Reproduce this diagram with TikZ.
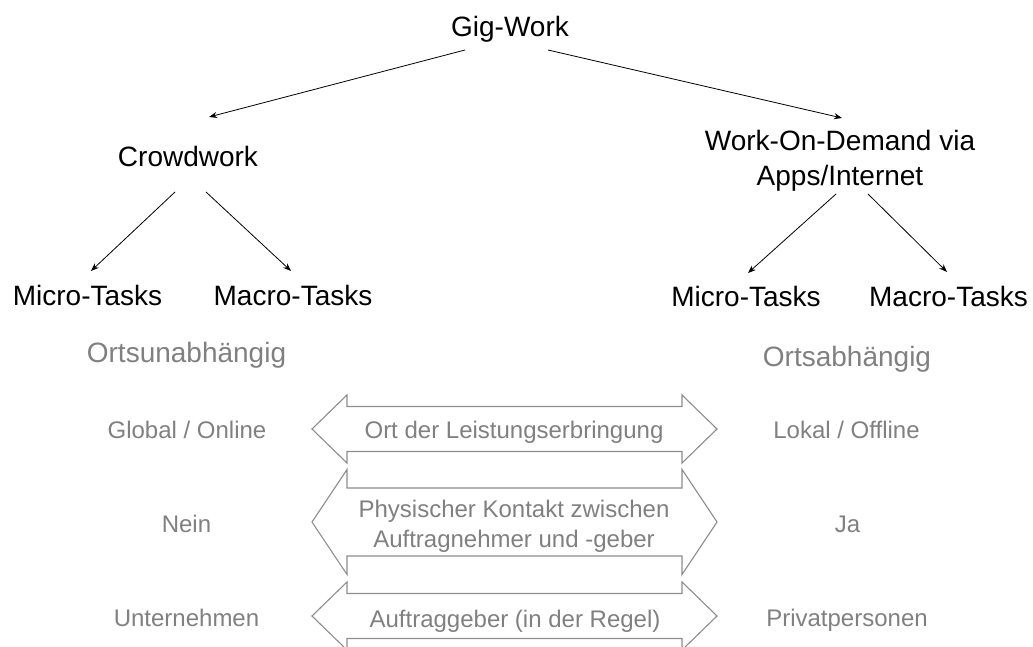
\documentclass[tikz,border=0pt]{standalone}
\usepackage{fontspec}
\setmainfont{Liberation Sans}
\usepackage{xcolor}
\usetikzlibrary{positioning,arrows.meta,calc}
\definecolor{txtgrey}{RGB}{128,128,128}
\definecolor{linegrey}{RGB}{140,140,140}

\begin{document}
\begin{tikzpicture}[
  x=1pt, y=-1pt,
  every node/.style={inner sep=0pt},
  big/.style={font=\fontsize{28}{35}\selectfont, text=black, anchor=base},
  side/.style={font=\fontsize{28}{34}\selectfont, text=txtgrey, anchor=base},
  attr/.style={font=\fontsize{24}{30}\selectfont, text=txtgrey, anchor=base},
  arr/.style={-{Stealth[length=8pt,width=6pt]}, line width=0.8pt},
  dblarrow/.style={draw=linegrey, line width=1.1pt, line join=miter}
]
  \useasboundingbox (0,0) rectangle (1033,647);

  % tree
  \node[big] (gig) at (510,37) {Gig-Work};
  \node[big] (crowd) at (188,167) {Crowdwork};
  \node[big, anchor=north, align=center] (wod) at (840,129.6) {Work-On-Demand via\\Apps/Internet};
  \node[big] (micro1) at (87.5,305) {Micro-Tasks};
  \node[big] (macro1) at (293,305) {Macro-Tasks};
  \node[big] (micro2) at (746,306) {Micro-Tasks};
  \node[big] (macro2) at (948.5,306) {Macro-Tasks};

  \draw[arr] ([shift={(-45,13)}]gig.base) -- ([shift={(21,-50)}]crowd.base);
  \draw[arr] ([shift={(38,13)}]gig.base) -- ([shift={(2,-11.6)}]wod.north);
  \draw[arr] ([shift={(-13,25)}]crowd.base) -- ([shift={(3.5,-34)}]micro1.base);
  \draw[arr] ([shift={(18,25)}]crowd.base) -- ([shift={(-2,-34)}]macro1.base);
  \draw[arr] ([shift={(-4,64.4)}]wod.north) -- ([shift={(2,-33)}]micro2.base);
  \draw[arr] ([shift={(28,64.4)}]wod.north) -- ([shift={(-1.5,-34)}]macro2.base);

  % comparison
  \node[side] (unab) at (186.5,362) {Ortsunabhängig};
  \node[side] (ab) at (847,366) {Ortsabhängig};

  \foreach \y/\s/\h in {429/22.5/34, 522/34/52.5, 616/22.5/34}
    \draw[dblarrow] (312,\y) -- (347,\y-\h) -- (347,\y-\s) -- (682,\y-\s)
      -- (682,\y-\h) -- (717,\y) -- (682,\y+\h) -- (682,\y+\s)
      -- (347,\y+\s) -- (347,\y+\h) -- cycle;

  \node[attr] (ort) at (514,438) {Ort der Leistungserbringung};
  \node[attr, anchor=north, align=center] (kontakt) at (514,499.5) {Physischer Kontakt zwischen\\Auftragnehmer und -geber};
  \node[attr] (auftrag) at (515,627) {Auftraggeber (in der Regel)};

  \node[attr] (global) at (187,438) {Global / Online};
  \node[attr] (nein) at (186.5,532) {Nein};
  \node[attr] (unt) at (186.5,626) {Unternehmen};
  \node[attr] (lokal) at (846.5,438) {Lokal / Offline};
  \node[attr] (ja) at (847.5,532) {Ja};
  \node[attr] (privat) at (847,626) {Privatpersonen};
\end{tikzpicture}
\end{document}
